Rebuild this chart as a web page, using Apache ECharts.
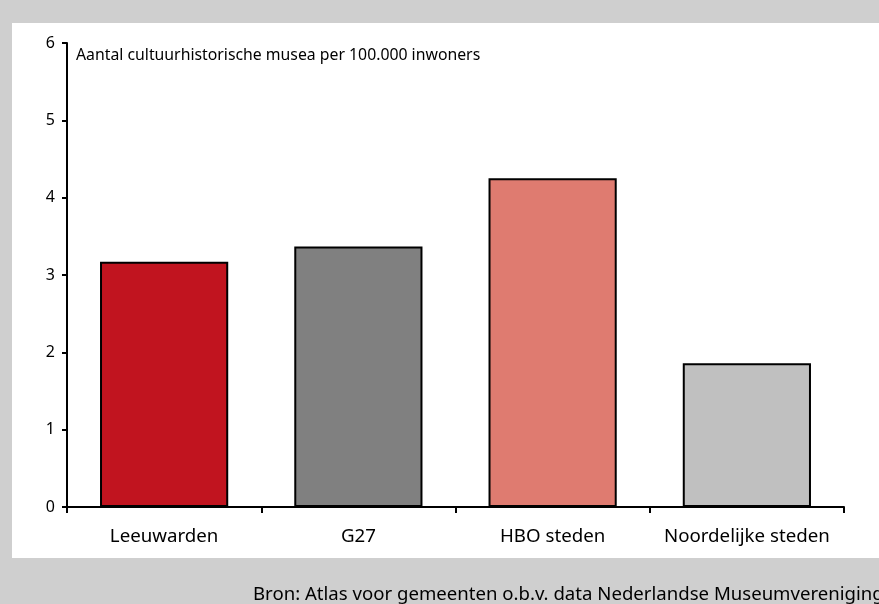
<!DOCTYPE html>
<html>
<head>
<meta charset="utf-8">
<script src="https://cdn.jsdelivr.net/npm/echarts@6/dist/echarts.min.js"></script>
<style>
  html, body { margin: 0; padding: 0; background: #cfcfcf; }
  #chart { width: 879px; height: 604px; }
</style>
</head>
<body>
<div id="chart"></div>
<script>
// gegevens
var categories = ["Leeuwarden", "G27", "HBO steden", "Noordelijke steden"];
var values = [3.17, 3.37, 4.25, 1.86];
var barColors = ["#c1141f", "#808080", "#df7b70", "#c0c0c0"];
var yTicks = [0, 1, 2, 3, 4, 5, 6];

var fontName = "Noto Sans";

var myChart = echarts.init(document.getElementById("chart"));
var option = {
  backgroundColor: "#cfcfcf",
  animation: false,
  textStyle: { fontFamily: fontName },
  graphic: [
    {
      type: "rect",
      z: -10,
      shape: { x: 12, y: 23, width: 867, height: 535 },
      style: { fill: "#ffffff" }
    },
    {
      type: "text",
      left: 76,
      top: 47,
      style: {
        text: "Aantal cultuurhistorische musea per 100.000 inwoners",
        font: "15.8px " + fontName,
        fill: "#000"
      }
    },
    {
      type: "text",
      left: 253,
      top: 585,
      style: {
        text: "Bron: Atlas voor gemeenten o.b.v. data Nederlandse Museumvereniging",
        font: "18.6px " + fontName,
        fill: "#000"
      }
    }
  ],
  grid: { left: 67, right: 35, top: 43, bottom: 97, containLabel: false },
  xAxis: {
    type: "category",
    data: categories,
    boundaryGap: true,
    axisLine: { lineStyle: { color: "#000", width: 2 } },
    axisTick: { show: true, length: 6, inside: false, lineStyle: { color: "#000", width: 2 } },
    axisLabel: { color: "#000", fontSize: 18.7, margin: 20, interval: 0 }
  },
  yAxis: {
    type: "value",
    min: 0,
    max: yTicks[yTicks.length - 1],
    interval: 1,
    axisLine: { show: true, lineStyle: { color: "#000", width: 2 } },
    axisTick: { show: true, length: 5, lineStyle: { color: "#000", width: 2 } },
    axisLabel: { color: "#000", fontSize: 16, margin: 12 },
    splitLine: { show: false }
  },
  series: [
    {
      type: "bar",
      barCategoryGap: "34%",
      data: values.map(function (v, i) {
        return {
          value: v,
          itemStyle: { color: barColors[i], borderColor: "#000", borderWidth: 2 }
        };
      })
    }
  ]
};
myChart.setOption(option);
</script>
</body>
</html>
